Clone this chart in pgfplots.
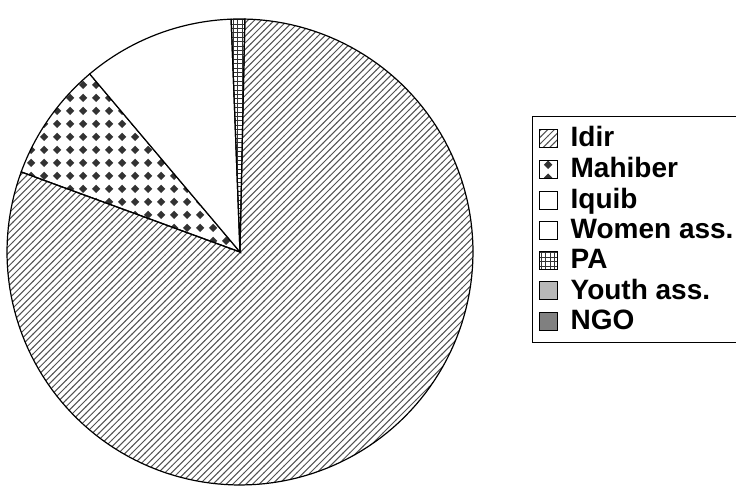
\documentclass[border=0pt]{standalone}
\usepackage{pgfplots}
\pgfplotsset{compat=1.18}
\usepackage{pgfplotstable}
\usetikzlibrary{patterns}
\usepackage{fontspec}
\setmainfont{Liberation Sans}

\pgfdeclarepatternformonly{idirhatch}{\pgfqpoint{-1pt}{-1pt}}{\pgfqpoint{4.3pt}{4.3pt}}{\pgfqpoint{3.3pt}{3.3pt}}{%
  \pgfsetlinewidth{0.5pt}%
  \pgfpathmoveto{\pgfqpoint{-0.1pt}{-0.1pt}}%
  \pgfpathlineto{\pgfqpoint{3.4pt}{3.4pt}}%
  \pgfusepath{stroke}}
\pgfdeclarepatternformonly{diamonds}{\pgfqpoint{0pt}{0pt}}{\pgfqpoint{6.3pt}{6.3pt}}{\pgfqpoint{6.3pt}{6.3pt}}{%
  \pgfpathmoveto{\pgfqpoint{3.15pt}{1.0pt}}%
  \pgfpathlineto{\pgfqpoint{5.3pt}{3.15pt}}%
  \pgfpathlineto{\pgfqpoint{3.15pt}{5.3pt}}%
  \pgfpathlineto{\pgfqpoint{1.0pt}{3.15pt}}%
  \pgfpathclose
  \pgfusepath{fill}}
\pgfdeclarepatternformonly{smallgrid}{\pgfqpoint{-0.5pt}{-0.5pt}}{\pgfqpoint{2.5pt}{2.5pt}}{\pgfqpoint{2.2pt}{2.2pt}}{%
  \pgfsetlinewidth{0.35pt}%
  \pgfpathmoveto{\pgfqpoint{0pt}{-0.1pt}}\pgfpathlineto{\pgfqpoint{0pt}{2.3pt}}%
  \pgfpathmoveto{\pgfqpoint{-0.1pt}{0pt}}\pgfpathlineto{\pgfqpoint{2.3pt}{0pt}}%
  \pgfusepath{stroke}}

\pgfplotstableread{
label value
Idir 80.25
Mahiber 8.26
Iquib 10.55
Women 0
PA 0.94
Youth 0
NGO 0
}\piedata

\def\cx{240}\def\cy{234}\def\R{233}\def\offset{1.2}
\newcommand\getval[2]{\pgfplotstablegetelem{#1}{value}\of\piedata\pgfmathsetmacro#2{\pgfplotsretval}}
\getval{0}\vA \getval{1}\vB \getval{2}\vC \getval{4}\vE
\pgfmathsetmacro\aO{90-\offset}
\pgfmathsetmacro\aA{\aO-3.6*\vA}
\pgfmathsetmacro\aB{\aA-3.6*\vB}
\pgfmathsetmacro\aC{\aB-3.6*\vC}
\pgfmathsetmacro\aE{\aC-3.6*\vE}

\begin{document}
\begin{tikzpicture}
\begin{axis}[
  width=368pt, height=243pt, scale only axis, hide axis,
  xmin=0, xmax=736, ymin=0, ymax=486, clip=false,
  legend style={at={(0.7228,0.7613)}, anchor=north west, draw=black, line width=0.6pt,
    font=\fontsize{14}{16}\selectfont\bfseries, row sep=-0.2pt, inner xsep=3pt, inner ysep=3pt,
    cells={anchor=west}},
  legend image code/.code={\draw[#1,line width=0.5pt] (0.5pt,-4.5pt) rectangle (9.5pt,4.5pt);\path (14pt,0pt);},
  every axis plot/.append style={draw=black, line width=0.6pt},
]
\addplot[pattern=idirhatch, pattern color=black!68, domain=\aA:\aO, samples=150]
  ({\cx+\R*cos(x)},{\cy+\R*sin(x)}) -- (axis cs:\cx,\cy) -- cycle;
\addlegendentry{Idir}
\addplot[pattern=diamonds, pattern color=black!80, domain=\aB:\aA, samples=40]
  ({\cx+\R*cos(x)},{\cy+\R*sin(x)}) -- (axis cs:\cx,\cy) -- cycle;
\addlegendentry{Mahiber}
\addplot[fill=white, domain=\aC:\aB, samples=40]
  ({\cx+\R*cos(x)},{\cy+\R*sin(x)}) -- (axis cs:\cx,\cy) -- cycle;
\addlegendentry{Iquib}
\addlegendimage{fill=white, draw=black}
\addlegendentry{Women ass.\kern 20pt}
\addplot[pattern=smallgrid, pattern color=black!80, domain=\aE:\aC, samples=10]
  ({\cx+\R*cos(x)},{\cy+\R*sin(x)}) -- (axis cs:\cx,\cy) -- cycle;
\addlegendentry{PA}
\addlegendimage{fill=black!28, draw=black}
\addlegendentry{Youth ass.}
\addlegendimage{fill=black!50, draw=black}
\addlegendentry{NGO}
\coordinate (SW) at (axis cs:0,0);
\coordinate (NE) at (axis cs:736,486);
\end{axis}
\pgfresetboundingbox
\path[use as bounding box] (SW) rectangle (NE);
\end{tikzpicture}
\end{document}
